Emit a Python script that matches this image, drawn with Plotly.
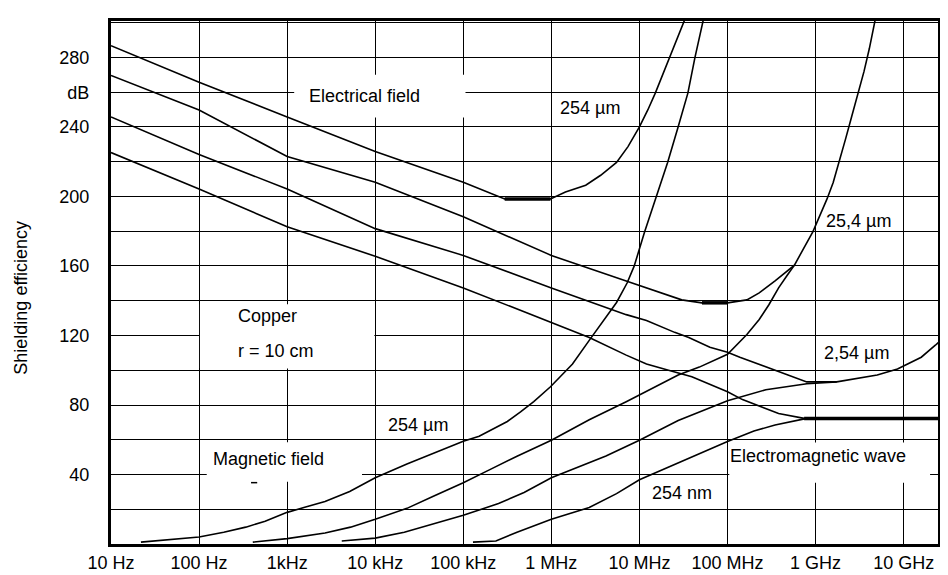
import plotly.graph_objects as go

# ---------------- data (log10 of frequency in Hz, shielding in dB) ----------------
x_tick_exp = [1, 2, 3, 4, 5, 6, 7, 8, 9, 10]
x_tick_labels = ["10 Hz", "100 Hz", "1kHz", "10 kHz", "100 kHz", "1 MHz",
                 "10 MHz", "100 MHz", "1 GHz", "10 GHz"]
y_tick_vals = [40, 80, 120, 160, 200, 240, 260, 280]
y_tick_labels = ["40", "80", "120", "160", "200", "240", "dB", "280"]

# Electrical field, 254 um
e1_lf = [1.0, 2.0, 3.0, 4.0, 5.0, 5.47, 5.99, 6.16, 6.39, 6.56, 6.74, 6.87, 7.0,
         7.095, 7.18, 7.26, 7.345, 7.43, 7.50, 7.54]
e1_db = [286.8, 265.7, 245.8, 225.9, 208.2, 198.6, 198.6, 202.6, 206.5, 212.2, 219.6,
         228.7, 240.1, 249.8, 259.5, 269.7, 279.9, 290.8, 299.9, 305.0]
# Electrical field, 25.4 um
e2_lf = [1.0, 2.0, 3.0, 4.0, 5.0, 6.0, 6.85, 7.08, 7.48, 7.71, 8.0, 8.22, 8.36, 8.54,
         8.65, 8.76, 8.97, 9.13, 9.2, 9.27, 9.34, 9.41, 9.48, 9.55, 9.61, 9.67, 9.69]
e2_db = [269.7, 249.8, 223.0, 208.2, 188.3, 166.1, 151.4, 147.4, 140.5, 138.8, 138.8,
         140.5, 144.5, 151.4, 155.9, 160.5, 179.8, 198.6, 208.0, 220.0, 233.0, 246.0,
         259.0, 272.0, 285.0, 299.3, 305.0]
# Electrical field, 2.54 um
e3_lf = [1.0, 2.0, 3.0, 4.0, 5.0, 6.0, 6.85, 7.08, 7.40, 7.56, 7.80, 8.0, 8.14, 8.54,
         8.74, 8.90, 9.24, 9.70, 9.93, 10.2, 10.36, 10.42]
e3_db = [245.8, 224.2, 204.3, 181.5, 166.1, 147.4, 132.0, 128.6, 121.8, 118.9, 113.2,
         110.4, 107.5, 100.1, 96.7, 93.3, 93.3, 97.3, 100.7, 107.5, 114.4, 117.2]
# Electrical field, 254 nm
e4_lf = [1.0, 2.0, 3.0, 4.0, 5.0, 5.94, 6.43, 6.85, 7.08, 7.32, 7.595, 8.0, 8.17,
         8.58, 8.87, 10.43]
e4_db = [225.3, 204.3, 182.6, 165.6, 147.4, 128.6, 118.9, 108.7, 103.6, 100.1, 96.2,
         87.6, 83.1, 75.1, 72.3, 72.3]

# Magnetic field, 254 um
m1_lf = [1.34, 1.73, 2.0, 2.28, 2.53, 2.75, 3.0, 3.2, 3.43, 3.71, 4.0, 4.36, 4.66, 5.0,
         5.18, 5.35, 5.5, 5.65, 5.8, 5.99, 6.24, 6.43, 6.62, 6.74, 6.86, 6.94, 7.06,
         7.19, 7.32, 7.44, 7.55, 7.63, 7.71, 7.74]
m1_db = [1.1, 2.8, 4.0, 6.8, 9.7, 13.1, 18.2, 21.1, 24.5, 30.2, 38.1, 46.1, 52.3, 59.2,
         62.0, 66.5, 70.5, 76.0, 82.0, 90.5, 103.6, 117.2, 130.3, 139.0, 150.2, 159.9,
         179.8, 199.7, 219.6, 240.1, 259.5, 279.9, 299.9, 305.0]
# Magnetic field, 25.4 um
m2_lf = [2.61, 3.0, 3.43, 3.72, 4.0, 4.36, 4.66, 5.0, 5.29, 5.61, 6.0, 6.43, 6.85,
         7.08, 7.44, 7.68, 8.0, 8.22, 8.36, 8.47, 8.58, 8.68, 8.76]
m2_db = [1.1, 3.1, 6.3, 9.7, 14.2, 20.5, 27.5, 35.3, 42.5, 50.5, 59.7, 71.5, 81.9,
         88.0, 97.3, 101.8, 109.2, 120.6, 129.2, 137.7, 147.4, 154.8, 160.5]
# Magnetic field, 2.54 um
m3_lf = [3.62, 4.0, 4.33, 4.66, 5.0, 5.40, 5.69, 6.0, 6.33, 6.62, 7.0, 7.44, 8.0,
         8.435, 8.90, 9.24]
m3_db = [1.7, 3.4, 6.8, 11.4, 16.5, 23.3, 29.6, 38.1, 45.0, 50.6, 59.7, 71.1, 82.5,
         88.8, 92.2, 93.3]
# Magnetic field, 254 nm
m4_lf = [5.11, 5.37, 5.61, 6.0, 6.43, 6.74, 7.0, 7.44, 8.0, 8.30, 8.54, 8.90]
m4_db = [1.1, 1.7, 6.8, 14.2, 21.0, 29.0, 37.0, 46.7, 59.0, 65.0, 68.5, 72.3]

# thick flat portions (minima / plane-wave limit)
flat_lf = [[5.47, 5.99], [7.71, 8.0], [8.87, 10.43]]
flat_db = [[198.6, 198.6], [138.8, 138.8], [72.3, 72.3]]

FONT = "Arial, Liberation Sans, sans-serif"
X_RANGE = [1, 10.39]   # log10 range of the x axis

fig = go.Figure()


def add_curve(lf, db, width=1.6):
    fig.add_trace(go.Scatter(
        x=[10 ** v for v in lf], y=db, mode="lines",
        line=dict(color="black", width=width),
        hoverinfo="skip", showlegend=False))


for lf, db in [(e1_lf, e1_db), (e2_lf, e2_db), (e3_lf, e3_db), (e4_lf, e4_db),
               (m1_lf, m1_db), (m2_lf, m2_db), (m3_lf, m3_db), (m4_lf, m4_db)]:
    add_curve(lf, db)
for lf, db in zip(flat_lf, flat_db):
    add_curve(lf, db, width=3.5)


def xp(lf):
    """log10 frequency -> paper x position of the plot area"""
    return (lf - X_RANGE[0]) / (X_RANGE[1] - X_RANGE[0])


# white label boxes (hide the grid behind the texts; no curve passes through them)
boxes = [
    (3.08, 5.025, 245.5, 270.0),   # Electrical field
    (2.01, 3.99, 101.0, 138.0),    # Copper / r = 10 cm
    (2.087, 3.85, 35.8, 58.6),     # Magnetic field
    (8.02, 10.3, 35.3, 58.4),      # Electromagnetic wave
]
shapes = []
for x0, x1, y0, y1 in boxes:
    shapes.append(dict(type="rect", xref="paper", yref="y", x0=xp(x0), x1=xp(x1),
                       y0=y0, y1=y1, fillcolor="white", line=dict(width=0),
                       layer="above"))
shapes.append(dict(type="line", xref="paper", yref="y", x0=xp(2.59), x1=xp(2.66),
                   y0=35.3, y1=35.3, line=dict(color="black", width=1.5),
                   layer="above"))

labels = [
    ("Electrical field", 3.88, 257.8, "center"),
    ("254 µm", 6.08, 250.9, "left"),
    ("25,4 µm", 9.09, 186.0, "left"),
    ("Copper", 2.42, 131.4, "left"),
    ("r = 10 cm", 2.42, 111.0, "left"),
    ("2,54 µm", 9.07, 110.0, "left"),
    ("254 µm", 4.12, 68.4, "left"),
    ("Magnetic field", 2.13, 49.0, "left"),
    ("Electromagnetic wave", 8.01, 50.6, "left"),
    ("254 nm", 7.12, 29.2, "left"),
]
annotations = []
for text, x, y, anchor in labels:
    annotations.append(dict(text=text, x=x, y=y, xref="x", yref="y", xanchor=anchor,
                            yanchor="middle", showarrow=False,
                            font=dict(family=FONT, size=18, color="black")))
annotations.append(dict(text="Shielding efficiency", xref="paper", yref="paper",
                        x=-0.109, y=0.4707, xanchor="center", yanchor="middle",
                        textangle=-90, showarrow=False,
                        font=dict(family=FONT, size=18, color="black")))

fig.update_layout(
    width=948, height=575,
    margin=dict(l=103, r=18, t=10, b=36),
    paper_bgcolor="white", plot_bgcolor="white",
    shapes=shapes, annotations=annotations,
    xaxis=dict(type="log", range=X_RANGE,
               tickvals=[10 ** k for k in x_tick_exp], ticktext=x_tick_labels,
               showgrid=True, gridcolor="black", gridwidth=1,
               showline=True, linecolor="black", linewidth=3, mirror=True,
               ticks="", zeroline=False,
               tickfont=dict(family=FONT, size=18, color="black")),
    yaxis=dict(range=[0, 301], tickvals=y_tick_vals, ticktext=y_tick_labels,
               showgrid=True, gridcolor="black", gridwidth=1,
               minor=dict(tick0=0, dtick=20, showgrid=True, gridcolor="black",
                          gridwidth=1, ticks=""),
               showline=True, linecolor="black", linewidth=3, mirror=True,
               ticks="", zeroline=False, ticklabelstandoff=15,
               tickfont=dict(family=FONT, size=18, color="black")),
)

fig.write_html("out.html")
